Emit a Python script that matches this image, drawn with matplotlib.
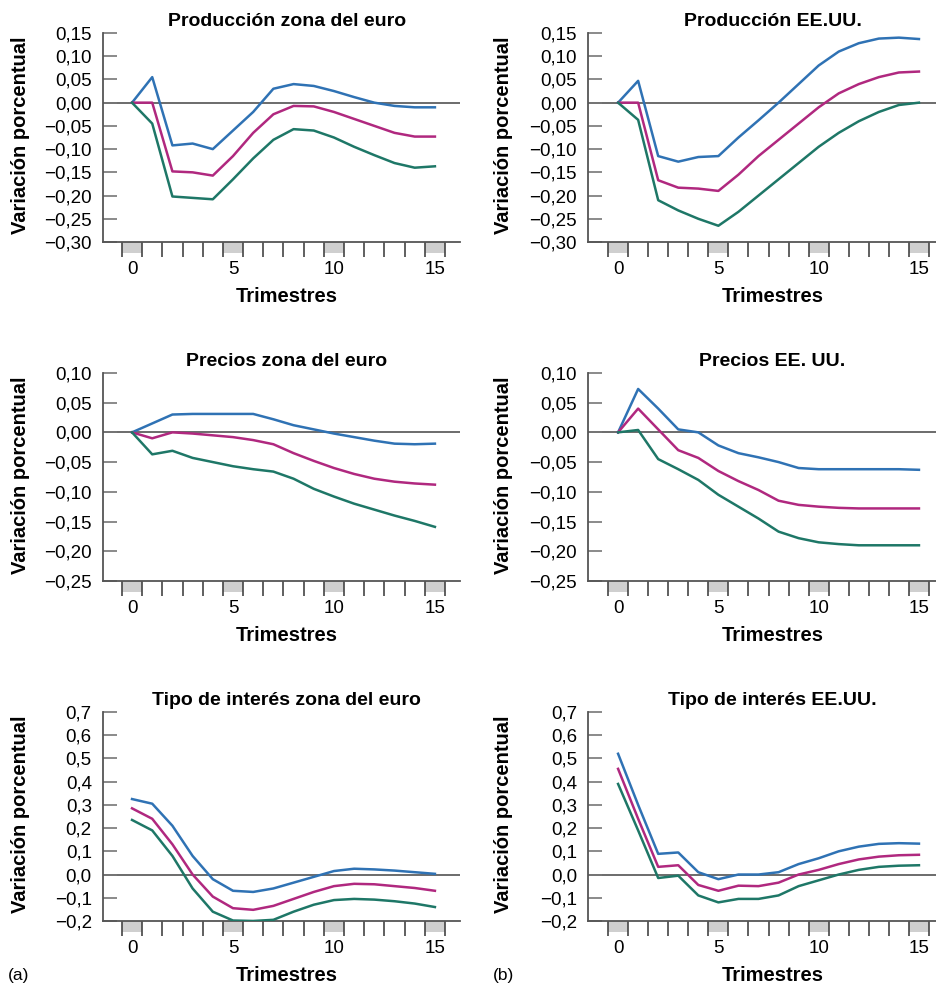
import numpy as np
import matplotlib
matplotlib.use("Agg")
import matplotlib.pyplot as plt
from matplotlib.patches import Rectangle
import matplotlib.transforms as mtransforms

plt.rcParams['font.family'] = ['Liberation Sans', 'DejaVu Sans']

QUARTERS = list(range(16))

# Producción zona del euro
prod_euro_hi = [0, 0.055, -0.092, -0.088, -0.100, -0.060, -0.020, 0.030, 0.040, 0.036, 0.025, 0.012, 0.000, -0.007, -0.010, -0.010]
prod_euro_mid = [0, 0.000, -0.148, -0.150, -0.157, -0.115, -0.065, -0.025, -0.007, -0.008, -0.020, -0.035, -0.050, -0.065, -0.073, -0.073]
prod_euro_lo = [0, -0.045, -0.202, -0.205, -0.208, -0.165, -0.120, -0.080, -0.057, -0.060, -0.075, -0.095, -0.113, -0.130, -0.140, -0.137]

# Producción EE.UU.
prod_us_hi = [0, 0.047, -0.115, -0.127, -0.117, -0.115, -0.075, -0.038, 0.000, 0.040, 0.080, 0.110, 0.128, 0.138, 0.140, 0.137]
prod_us_mid = [0, 0.000, -0.167, -0.183, -0.185, -0.190, -0.155, -0.115, -0.080, -0.045, -0.010, 0.020, 0.040, 0.055, 0.065, 0.067]
prod_us_lo = [0, -0.037, -0.210, -0.232, -0.250, -0.265, -0.235, -0.200, -0.165, -0.130, -0.095, -0.065, -0.040, -0.020, -0.005, 0.000]

# Precios zona del euro
prec_euro_hi = [0, 0.015, 0.030, 0.031, 0.031, 0.031, 0.031, 0.022, 0.012, 0.005, -0.002, -0.008, -0.014, -0.019, -0.020, -0.019]
prec_euro_mid = [0, -0.010, 0.000, -0.002, -0.005, -0.008, -0.013, -0.020, -0.035, -0.048, -0.060, -0.070, -0.078, -0.083, -0.086, -0.088]
prec_euro_lo = [0, -0.037, -0.031, -0.043, -0.050, -0.057, -0.062, -0.066, -0.078, -0.095, -0.108, -0.120, -0.130, -0.140, -0.149, -0.159]

# Precios EE. UU.
prec_us_hi = [0, 0.073, 0.040, 0.005, 0.000, -0.022, -0.035, -0.042, -0.050, -0.060, -0.062, -0.062, -0.062, -0.062, -0.062, -0.063]
prec_us_mid = [0, 0.040, 0.005, -0.030, -0.043, -0.065, -0.082, -0.097, -0.115, -0.122, -0.125, -0.127, -0.128, -0.128, -0.128, -0.128]
prec_us_lo = [0, 0.004, -0.045, -0.062, -0.080, -0.105, -0.125, -0.145, -0.167, -0.178, -0.185, -0.188, -0.190, -0.190, -0.190, -0.190]

# Tipo de interés zona del euro
tipo_euro_hi = [0.325, 0.305, 0.210, 0.080, -0.020, -0.070, -0.075, -0.060, -0.035, -0.010, 0.015, 0.025, 0.022, 0.017, 0.010, 0.003]
tipo_euro_mid = [0.285, 0.240, 0.130, 0.000, -0.095, -0.145, -0.152, -0.135, -0.105, -0.075, -0.050, -0.040, -0.042, -0.050, -0.058, -0.070]
tipo_euro_lo = [0.235, 0.190, 0.080, -0.060, -0.160, -0.198, -0.200, -0.195, -0.160, -0.130, -0.110, -0.105, -0.108, -0.115, -0.125, -0.140]

# Tipo de interés EE.UU.
tipo_us_hi = [0.520, 0.300, 0.089, 0.095, 0.010, -0.020, 0.000, 0.000, 0.010, 0.045, 0.070, 0.100, 0.120, 0.132, 0.135, 0.133]
tipo_us_mid = [0.455, 0.240, 0.033, 0.040, -0.045, -0.070, -0.048, -0.050, -0.035, 0.000, 0.020, 0.045, 0.065, 0.077, 0.083, 0.085]
tipo_us_lo = [0.390, 0.190, -0.015, -0.005, -0.090, -0.120, -0.105, -0.105, -0.090, -0.050, -0.025, 0.000, 0.020, 0.033, 0.038, 0.040]

TITLES = ["Producción zona del euro", "Producción EE.UU.",
          "Precios zona del euro", "Precios EE. UU.",
          "Tipo de interés zona del euro", "Tipo de interés EE.UU."]
YTICKS_PROD = [0.15, 0.10, 0.05, 0.00, -0.05, -0.10, -0.15, -0.20, -0.25, -0.30]
YTICKS_PREC = [0.10, 0.05, 0.00, -0.05, -0.10, -0.15, -0.20, -0.25]
YTICKS_TIPO = [0.7, 0.6, 0.5, 0.4, 0.3, 0.2, 0.1, 0.0, -0.1, -0.2]
XTICKS = [0, 5, 10, 15]

BLUE, MAGENTA, GREEN = '#2f72b4', '#b0287f', '#1e7767'
AXC = '#555555'

panels = [
    (prod_euro_hi, prod_euro_mid, prod_euro_lo, YTICKS_PROD, 2),
    (prod_us_hi, prod_us_mid, prod_us_lo, YTICKS_PROD, 2),
    (prec_euro_hi, prec_euro_mid, prec_euro_lo, YTICKS_PREC, 2),
    (prec_us_hi, prec_us_mid, prec_us_lo, YTICKS_PREC, 2),
    (tipo_euro_hi, tipo_euro_mid, tipo_euro_lo, YTICKS_TIPO, 1),
    (tipo_us_hi, tipo_us_mid, tipo_us_lo, YTICKS_TIPO, 1),
]

fig = plt.figure(figsize=(9.36, 9.85), dpi=100)
bottoms = [0.7543, 0.4102, 0.0650]
heights = [0.2122, 0.2112, 0.2122]
lefts = [0.1100, 0.6282]
widths = [0.3814, 0.3718]
xlims = [(-1.44, 16.24), (-1.5, 15.85)]
ylab_x = [-0.205, -0.215]
label_x = [0.515, 0.53]


def fmt(v, nd):
    return f"{v:.{nd}f}".replace('.', ',').replace('-', '\u2212')


for i, (hi, mid, lo, yt, nd) in enumerate(panels):
    r, c = divmod(i, 2)
    ax = fig.add_axes([lefts[c], bottoms[r], widths[c], heights[r]])
    ax.axhline(0, color='#444444', lw=1.1, zorder=1)
    ax.plot(QUARTERS, hi, color=BLUE, lw=1.8, zorder=3)
    ax.plot(QUARTERS, mid, color=MAGENTA, lw=1.8, zorder=3)
    ax.plot(QUARTERS, lo, color=GREEN, lw=1.8, zorder=3)
    ax.set_xlim(*xlims[c])
    ax.set_ylim(min(yt), max(yt))
    ax.set_yticks(yt)
    ax.set_yticklabels([fmt(v, nd) for v in yt], fontsize=13.5)
    ax.tick_params(axis='y', direction='in', length=10, width=1.2, color='#777777', pad=8)
    ax.set_xticks(XTICKS)
    ax.set_xticklabels([str(v) for v in XTICKS], fontsize=13.5)
    ax.set_xticks(np.arange(-0.5, 16, 1.0), minor=True)
    ax.tick_params(axis='x', which='major', length=0, pad=14)
    ax.tick_params(axis='x', which='minor', direction='out', length=11, width=1.2, color='#444444')
    trans = mtransforms.blended_transform_factory(ax.transData, ax.transAxes)
    for cx in XTICKS:
        ax.add_patch(Rectangle((cx - 0.5, -0.052), 1.0, 0.052, transform=trans,
                               facecolor='#cfcfcf', edgecolor='none', clip_on=False, zorder=0))
    for s in ['top', 'right']:
        ax.spines[s].set_visible(False)
    for s in ['left', 'bottom']:
        ax.spines[s].set_color(AXC)
        ax.spines[s].set_linewidth(1.3)
    ax.set_title(TITLES[i], fontsize=14, fontweight='bold', pad=5, x=label_x[c])
    ax.set_xlabel('Trimestres', fontsize=14.5, fontweight='bold', labelpad=6)
    ax.xaxis.label.set_x(label_x[c])
    ax.set_ylabel('Variación porcentual', fontsize=14.5, fontweight='bold')
    ax.yaxis.set_label_coords(ylab_x[c], 0.51)

fig.text(0.008, 0.005, '(a)', fontsize=12.5)
fig.text(0.527, 0.005, '(b)', fontsize=12.5)

fig.savefig('out.png', dpi=100)
